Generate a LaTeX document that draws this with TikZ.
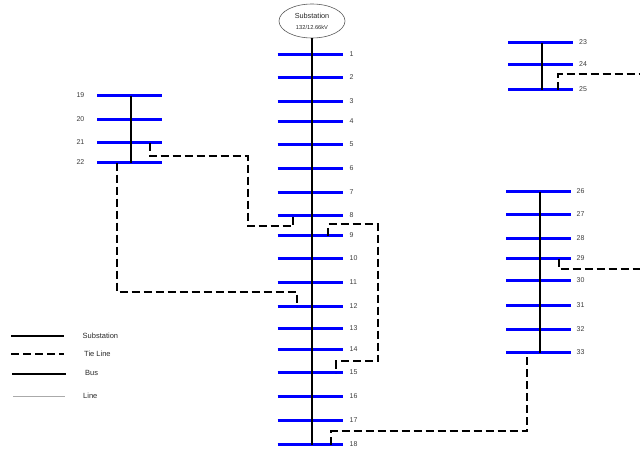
\documentclass[tikz,border=0pt]{standalone}
\usepackage{fontspec}
\setmainfont{Liberation Sans}
\usetikzlibrary{shapes.geometric}
\definecolor{busblue}{RGB}{0,0,255}
\definecolor{lblgray}{RGB}{60,60,60}
\definecolor{txtgray}{RGB}{40,40,40}
\definecolor{rimgray}{RGB}{90,90,90}
\definecolor{linegray}{RGB}{170,170,170}
\begin{document}
\begin{tikzpicture}[x=1pt,y=-1pt,
  busline/.style={draw=busblue,line width=3pt},
  feeder/.style={draw=black,line width=2pt},
  tie/.style={draw=black,line width=2pt,dash pattern=on 8pt off 4pt},
  lbl/.style={font=\fontsize{7}{8}\selectfont,text=lblgray,inner sep=0pt},
  leg/.style={font=\fontsize{7.5}{9}\selectfont,text=txtgray,inner sep=0pt,anchor=west}]
\useasboundingbox (0,0) rectangle (640,450);
% substation
\node[draw=rimgray,line width=0.6pt,ellipse,minimum width=66pt,minimum height=34pt,inner sep=0pt] (sub) at (312,21) {};
\node[font=\fontsize{7.3}{8}\selectfont,text=txtgray,inner sep=0pt] (subt1) at (312,16) {Substation};
\node[font=\fontsize{5.7}{6}\selectfont,text=txtgray,inner sep=0pt] (subt2) at (312,27) {132/12.66kV};
% main feeder buses
\foreach \n/\y in {1/54.5,2/77.5,3/101.5,4/121.5,5/144.5,6/168.5,7/192.5,8/215.5,9/235.5,10/258.5,11/282.5,12/306.5,13/328.5,14/349.5,15/372.5,16/396.5,17/420.5,18/444.5}{
  \coordinate (bL\n) at (277.5,\y);
  \coordinate (bR\n) at (343,\y);
  \coordinate (bC\n) at (312,\y);
  \draw[busline] (bL\n) -- (bR\n);
  \node[lbl,anchor=west] (l\n) at (349.5,\y) {\n};
}
\draw[feeder] (sub.south) -- (bC18);
% lateral 19-22
\foreach \n/\y in {19/95.5,20/119.5,21/142.5,22/162.5}{
  \coordinate (bL\n) at (97,\y);
  \coordinate (bR\n) at (162,\y);
  \coordinate (bC\n) at (131,\y);
  \draw[busline] (bL\n) -- (bR\n);
  \node[lbl,anchor=east] (l\n) at (84.5,\y) {\n};
}
\draw[feeder] (bC19) -- (bC22);
% lateral 23-25
\foreach \n/\y in {23/42.5,24/64.5,25/89.5}{
  \coordinate (bL\n) at (508,\y);
  \coordinate (bR\n) at (573,\y);
  \coordinate (bC\n) at (542,\y);
  \draw[busline] (bL\n) -- (bR\n);
  \node[lbl,anchor=west] (l\n) at (579,\y) {\n};
}
\draw[feeder] (bC23) -- (bC25);
% lateral 26-33
\foreach \n/\y in {26/191.5,27/214.5,28/238.5,29/258.5,30/280.5,31/305.5,32/329.5,33/352.5}{
  \coordinate (bL\n) at (506,\y);
  \coordinate (bR\n) at (571,\y);
  \coordinate (bC\n) at (540,\y);
  \draw[busline] (bL\n) -- (bR\n);
  \node[lbl,anchor=west] (l\n) at (576.5,\y) {\n};
}
\draw[feeder] (bC26) -- (bC33);
% tie points
\coordinate (t21) at (150,142.5);
\coordinate (t8) at (293,215.5);
\coordinate (t22) at (117,162.5);
\coordinate (t12) at (297,306.5);
\coordinate (t9) at (328,235.5);
\coordinate (t15) at (336,372.5);
\coordinate (t18) at (331,444.5);
\coordinate (t33) at (527,352.5);
\coordinate (t29) at (559,258.5);
\coordinate (e29) at (640,269);
\coordinate (t25) at (558,89.5);
\coordinate (e25) at (640,74);
% tie lines
\draw[tie] (t21) |- (248,156) |- (293,226) -- (t8);
\draw[tie] (t22) |- (297,292) -- (t12);
\draw[tie] (t9) |- (378,224) |- (336,361) -- (t15);
\draw[tie] (t18) |- (527,431) -- (t33);
\draw[tie] (t29) |- (e29);
\draw[tie] (t25) |- (e25);
% legend
\coordinate (g1a) at (11,336); \coordinate (g1b) at (64,336);
\coordinate (g2a) at (11,354); \coordinate (g2b) at (64,354);
\coordinate (g3a) at (12,374); \coordinate (g3b) at (66,374);
\coordinate (g4a) at (13,396.5); \coordinate (g4b) at (65,396.5);
\draw[black,line width=2pt] (g1a) -- (g1b);
\draw[black,line width=2pt,dash pattern=on 8pt off 4pt] (g2a) -- (g2b);
\draw[black,line width=2pt] (g3a) -- (g3b);
\draw[linegray,line width=1pt] (g4a) -- (g4b);
\node[leg] (lg1) at (82.5,335.7) {Substation};
\node[leg] (lg2) at (84,353.7) {Tie Line};
\node[leg] (lg3) at (85,372.5) {Bus};
\node[leg] (lg4) at (83,396) {Line};
\end{tikzpicture}
\end{document}
